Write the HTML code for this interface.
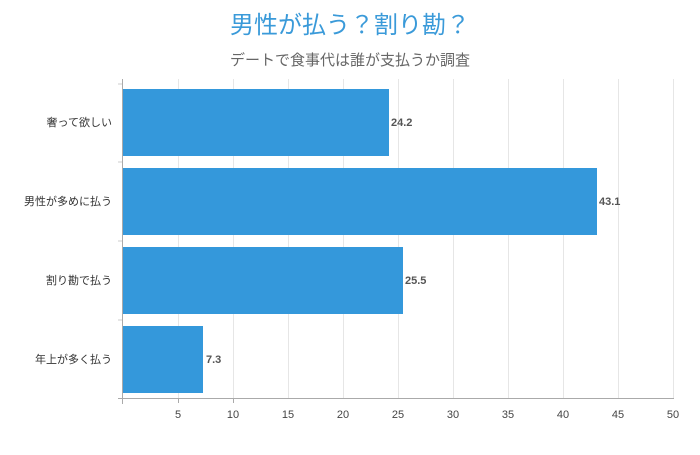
<!DOCTYPE html>
<html><head><meta charset="utf-8"><style>
body{margin:0;background:#fff}
svg text{font-family:"Liberation Sans","Noto Sans CJK JP",sans-serif}
</style></head><body>
<svg width="700" height="450" xmlns="http://www.w3.org/2000/svg">
<rect width="700" height="450" fill="#fff"/>
<text x="350" y="33" text-anchor="middle" font-size="24" fill="#3a9ad9">男性が払う？割り勘？</text>
<text x="350" y="65" text-anchor="middle" font-size="15" fill="#666">デートで食事代は誰が支払うか調査</text>
<g stroke="#e6e6e6" stroke-width="1">
<line x1="178.5" y1="79" x2="178.5" y2="399"/><line x1="233.5" y1="79" x2="233.5" y2="399"/>
<line x1="288.5" y1="79" x2="288.5" y2="399"/><line x1="343.5" y1="79" x2="343.5" y2="399"/>
<line x1="398.5" y1="79" x2="398.5" y2="399"/><line x1="453.5" y1="79" x2="453.5" y2="399"/>
<line x1="508.5" y1="79" x2="508.5" y2="399"/><line x1="563.5" y1="79" x2="563.5" y2="399"/>
<line x1="618.5" y1="79" x2="618.5" y2="399"/><line x1="673.5" y1="79" x2="673.5" y2="399"/>
</g>
<g fill="#3498db">
<rect x="123" y="89" width="266" height="67"/>
<rect x="123" y="168" width="474" height="67"/>
<rect x="123" y="247" width="280" height="67"/>
<rect x="123" y="326" width="80" height="67"/>
</g>
<g stroke="#ccc"><line x1="118" y1="84" x2="122" y2="84"/><line x1="118" y1="162" x2="122" y2="162"/><line x1="118" y1="241" x2="122" y2="241"/><line x1="118" y1="320" x2="122" y2="320"/></g>
<line x1="122.5" y1="79" x2="122.5" y2="404" stroke="#aaa"/>
<line x1="118" y1="398.5" x2="674" y2="398.5" stroke="#aaa"/>
<g stroke="#aaa"><line x1="178.5" y1="399" x2="178.5" y2="403"/><line x1="233.5" y1="399" x2="233.5" y2="403"/></g>
<g font-size="11" fill="#555" font-weight="bold">
<text x="391" y="126">24.2</text><text x="599" y="205">43.1</text><text x="405" y="284">25.5</text><text x="206" y="363">7.3</text>
</g>
<g font-size="11" fill="#333" text-anchor="end">
<text x="112" y="126">奢って欲しい</text><text x="112" y="205">男性が多めに払う</text><text x="112" y="284">割り勘で払う</text><text x="112" y="363">年上が多く払う</text>
</g>
<g font-size="11" fill="#444" text-anchor="middle">
<text x="178" y="418">5</text><text x="233" y="418">10</text><text x="288" y="418">15</text><text x="343" y="418">20</text><text x="398" y="418">25</text><text x="453" y="418">30</text><text x="508" y="418">35</text><text x="563" y="418">40</text><text x="618" y="418">45</text><text x="673" y="418">50</text>
</g>
</svg>
</body></html>
